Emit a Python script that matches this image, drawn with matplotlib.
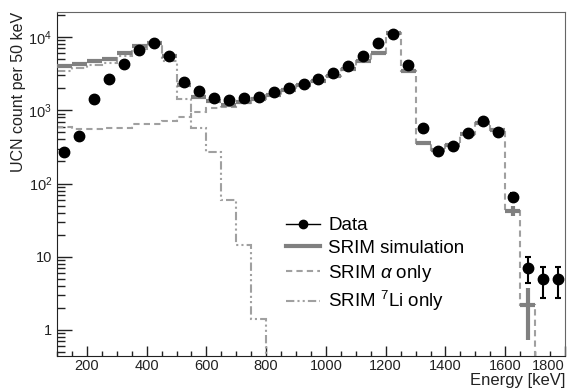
import numpy as np
import matplotlib
matplotlib.use("Agg")
import matplotlib.pyplot as plt
from matplotlib.lines import Line2D
from matplotlib.ticker import FixedLocator, MultipleLocator, FuncFormatter, LogLocator, NullFormatter

plt.rcParams['font.family'] = ['Liberation Sans', 'DejaVu Sans']
plt.rcParams['mathtext.fontset'] = 'custom'
plt.rcParams['mathtext.rm'] = 'Liberation Sans'
plt.rcParams['mathtext.it'] = 'Liberation Sans:italic'

# 50 keV bins, 100 - 1800 keV
bin_edges = np.arange(100, 1801, 50)
bin_centers = bin_edges[:-1] + 25

# measured counts per bin
data_counts = [270, 445, 1440, 2700, 4360, 6600, 8200, 5550, 2440, 1860,
               1490, 1380, 1470, 1540, 1770, 2020, 2300, 2700, 3230, 4060,
               5540, 8200, 11000, 4150, 566, 275, 330, 490, 710, 505,
               66, 7.1, 5.0, 5.0]

# SRIM simulation total (bins 125 .. 1675)
sim_counts = [4050, 4350, 4650, 5050, 6100, 7500, 8400, 5500, 2200, 1540,
              1340, 1180, 1290, 1430, 1620, 1900, 2200, 2500, 2950, 3650,
              4680, 6150, 11300, 3450, 360, 290, 340, 470, 680, 535,
              42.7, 2.2]

# SRIM alpha only
alpha_counts = [590, 550, 550, 575, 575, 655, 655, 715, 820, 960,
                1070, 1120, 1275, 1430, 1620, 1900, 2200, 2500, 2950, 3650,
                4680, 6150, 11300, 3450, 360, 290, 340, 470, 680, 535,
                42.7, 2.2, 0, 0]

# SRIM 7Li only
li_counts = [3450, 3800, 4100, 4475, 5525, 6845, 7745, 4785, 1410, 580,
             268, 60, 14.6, 1.4, 0, 0, 0, 0, 0, 0,
             0, 0, 0, 0, 0, 0, 0, 0, 0, 0,
             0, 0, 0, 0]

data_counts = np.array(data_counts)
sim_counts = np.array(sim_counts)

fig = plt.figure(figsize=(5.79, 3.90), dpi=100)
ax = fig.add_axes([0.0984, 0.0872, 0.8774, 0.8818])
ax.set_yscale('log', nonpositive='clip')

gray = '#808080'
light = '#a0a0a0'
dash_a = (0, (3, 2))
dash_li = (0, (4, 1.5, 1, 1.5, 1, 1.5))

ax.stairs(alpha_counts, bin_edges, baseline=None, color=light, lw=1.5,
          linestyle=dash_a, zorder=2)
ax.stairs(li_counts, bin_edges, baseline=None, color=light, lw=1.5,
          linestyle=dash_li, zorder=2)

sim_x = bin_centers[:len(sim_counts)]
ax.errorbar(sim_x, sim_counts, xerr=25, yerr=np.sqrt(sim_counts), fmt='none',
            ecolor=gray, elinewidth=3, capsize=0, zorder=3)

ax.errorbar(bin_centers, data_counts, yerr=np.sqrt(data_counts), fmt='o',
            color='black', ms=7.5, elinewidth=1.5, capsize=2, capthick=1.5,
            zorder=4)

ax.set_xlim(100, 1800)
ax.set_ylim(0.44, 22000)

ax.xaxis.set_major_locator(FixedLocator(np.arange(200, 1801, 200)))
ax.xaxis.set_minor_locator(MultipleLocator(50))
ax.yaxis.set_major_locator(FixedLocator([1, 10, 100, 1000, 10000]))
ax.yaxis.set_minor_locator(LogLocator(base=10, subs=np.arange(2, 10), numticks=20))
ax.yaxis.set_minor_formatter(NullFormatter())


def ylab(v, pos):
    if v == 1:
        return '1'
    if v == 10:
        return '10'
    return '$10^{%d}$' % round(np.log10(v))


ax.yaxis.set_major_formatter(FuncFormatter(ylab))
ax.tick_params(axis='both', which='both', direction='in', top=False, right=False,
               labelsize=10.5, colors='#222222')
ax.tick_params(axis='y', which='major', length=11, width=1)
ax.tick_params(axis='y', which='minor', length=5.5, width=1)
ax.tick_params(axis='x', which='major', length=7.2, width=1, pad=2)
ax.tick_params(axis='x', which='minor', length=3.3, width=1)

# last x label pulled inside like the original
fig.canvas.draw()
ax.get_xticklabels()[-1].set_horizontalalignment('right')

for s in ['top', 'right']:
    ax.spines[s].set_color('#666666')
for s in ['left', 'bottom']:
    ax.spines[s].set_color('#222222')

ax.set_ylabel('UCN count per 50 keV', loc='top', fontsize=11.5, color='#222222',
              labelpad=2)
ax.set_xlabel('Energy [keV]', loc='right', fontsize=12, color='#222222', labelpad=0)

handles = [
    Line2D([], [], color='black', marker='o', ms=6, lw=1),
    Line2D([], [], color=gray, lw=3),
    Line2D([], [], color=light, lw=1.5, linestyle=dash_a),
    Line2D([], [], color=light, lw=1.5, linestyle=dash_li),
]
labels = ['Data', 'SRIM simulation', r'SRIM $\alpha$ only', r'SRIM $^{7}$Li only']
ax.legend(handles, labels, loc='upper left', bbox_to_anchor=(0.451, 0.404),
          frameon=False, fontsize=13.5, handlelength=1.8, handletextpad=0.45,
          labelspacing=0.3, borderpad=0, borderaxespad=0)

fig.savefig('out.png', dpi=100)
